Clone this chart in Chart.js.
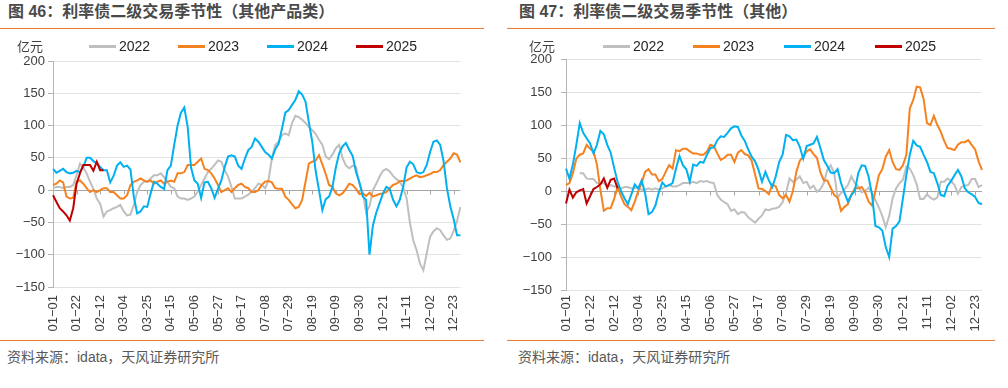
<!DOCTYPE html>
<html><head><meta charset="utf-8">
<script src="https://cdn.jsdelivr.net/npm/chart.js@4.4.1/dist/chart.umd.min.js"></script>
<style>
body{margin:0;width:1008px;height:388px;background:#fff;position:relative;overflow:hidden;font-family:"Liberation Sans","Noto Sans CJK SC",sans-serif;}
.t{position:absolute;font-weight:bold;font-size:16px;color:#4a4a4a;white-space:nowrap;line-height:20px;top:2px;font-family:"Liberation Sans","Noto Sans CJK SC",sans-serif}
.hr{position:absolute;height:0;border-top:1.5px solid #ED7D31;}
.src{position:absolute;font-size:14px;color:#595959;white-space:nowrap;line-height:18px;top:348px}
.unit{position:absolute;font-size:13px;color:#404040;line-height:16px;top:38px;font-family:"Noto Sans CJK SC",sans-serif}
.lg{position:absolute;font-size:14px;color:#262626;line-height:16px;white-space:nowrap;top:38px;padding-left:30px}
.lg i{position:absolute;left:0;height:3px;width:27px;top:7px}
canvas{position:absolute}
</style></head>
<body>
<div class="t" style="left:8px">图 46：利率债二级交易季节性（其他产品类）</div>
<div class="hr" style="left:0;width:484px;top:28px"></div>
<div class="t" style="left:519px">图 47：利率债二级交易季节性（其他）</div>
<div class="hr" style="left:507px;width:488px;top:28px"></div>
<div class="hr" style="left:0;width:484px;top:340px"></div>
<div class="hr" style="left:507px;width:488px;top:340px"></div>
<div class="src" style="left:7px">资料来源：idata，天风证券研究所</div>
<div class="src" style="left:518px">资料来源：idata，天风证券研究所</div>

<canvas id="c1" width="484" height="300" style="left:0;top:40px;width:484px;height:300px"></canvas>
<canvas id="c2" width="500" height="300" style="left:504px;top:40px;width:500px;height:300px"></canvas>

<div class="unit" style="left:17px">亿元</div>
<div class="unit" style="left:529px">亿元</div>
<div id="lg1"></div>
<div id="lg2"></div>

<script>
// ---------- data ----------
const SERIES_NAMES = ['2022','2023','2024','2025'];
const COLORS = ['#BFBFBF','#F5821F','#00B0F0','#C00000'];
const Y_TICKS = [-150,-100,-50,0,50,100,150,200];

// category labels: every 3rd day of the (leap) calendar year
const DATES = [];
for (let i = 0; i < 122; i++) {
  const d = new Date(Date.UTC(2024, 0, 1 + 3 * i));
  DATES.push(String(d.getUTCMonth() + 1).padStart(2, '0') + '−' + String(d.getUTCDate()).padStart(2, '0'));
}

// 图46 其他产品类
const L22 = [3,5,5,3,5,5,8,23,41,35, 26,13,2,-13,-21,-41,-33,-31,-28,-26,
  -23,-33,-39,-38,-23,-3,8,13,13,18, 23,23,26,20,13,5,3,-10,-13,-13,
  -15,-13,-10,-2,8,18,28,33,39,46, 44,31,21,5,-13,-13,-13,-10,-7,-2, 3,
  10,8,3,15,49,70,75,85,88,85, 104,115,113,109,104,98,93,87,78,70,
  52,48,55,65,70,50,38,34,38,36, 10,-3,-35,-25,0,10,21,30,33,29,
  22,17,13,4,-12,-50,-78,-93,-114,-124, -98,-72,-64,-59,-62,-70,-77,-75,-63,-48, -26];
const L23 = [8,10,15,12,-10,-13,-12,13,15,10, 3,-3,0,-3,0,3,3,-3,-3,-8,
  -13,-13,-8,8,13,15,18,15,13,15, 10,13,15,10,13,15,13,26,26,28,
  39,39,39,44,49,33,31,26,18,8, -3,0,3,-3,3,8,10,5,3,-3, -3,
  0,8,13,14,12,3,2,2,-10,-15, -22,-28,-26,-15,13,41,44,46,54,40,
  25,8,5,-5,-8,-5,2,10,8,2, -6,-5,-9,-4,-10,-8,-6,-5,-3,3,
  8,10,14,14,15,18,21,23,20,21, 23,25,28,28,31,39,44,49,57,55, 43];
const L24 = [33,27,30,33,28,26,27,30,28,36, 50,50,45,42,36,31,31,12,22,38,
  43,36,38,32,-10,-36,-33,-25,-26,-5, 13,10,5,2,31,38,70,100,120,128,
  98,35,15,10,-12,12,13,3,-12,2, 15,36,52,54,52,38,33,49,62,67, 80,
  75,67,59,55,49,63,72,95,120,124, 132,140,153,148,137,105,75,30,0,-31,
  -14,-10,5,35,57,68,73,62,53,28, 12,-10,-15,-100,-55,-35,-20,-5,5,2,
  -15,-25,-15,5,35,44,40,28,26,28, 39,59,75,77,70,45,3,-25,-45,-70, -70];
const L25 = [-8,-18,-28,-33,-39,-47,-28,10,26,39,39,39,30,44,31,31];

// 图47 其他
const R22 = [null,null,null,null,27,27,19,18,18,12, 12,12,7,9,7,7,4,6,6,4,
  5,4,2,2,4,2,4,2,4,7, 9,7,7,9,12,12,12,14,12,15,
  14,15,13,12,-6,-13,-17,-20,-30,-28, -35,-32,-33,-40,-44,-48,-42,-37,-28,-29, -27,
  -26,-24,-17,-3,19,14,17,22,12,14, 4,8,-1,3,12,32,39,27,-10,-3,
  2,9,22,12,7,-2,0,5,-3,-14, -25,-38,-55,-38,-11,4,12,17,37,34,
  24,10,-12,-12,-5,-10,-13,-10,14,14, 19,15,9,-4,6,8,9,18,18,6, 9];
const R23 = [9,12,27,49,55,57,70,64,60,40, 2,-30,-26,-26,-12,6,-8,-20,-24,-29,
  -16,0,12,29,33,25,25,15,18,29, 39,34,62,60,64,64,60,57,57,55,
  55,60,70,68,57,47,50,55,55,44, 58,62,56,54,46,25,4,3,0,-5, 10,
  7,-6,-11,-6,-16,0,29,46,52,60, 63,56,50,28,16,16,5,-6,-10,-30,
  -24,-20,-6,4,4,6,-2,-16,-22,0, 24,33,52,62,44,33,32,39,55,125,
  138,158,157,140,103,100,114,100,90,76, 65,64,62,70,74,74,77,70,63,45, 32];
const R24 = [34,19,40,70,103,88,80,72,57,70, 91,86,70,58,35,14,0,-11,-20,-5,
  10,4,16,-3,-35,-32,-22,-2,13,7, 9,12,34,53,39,33,14,40,38,44,
  43,55,65,66,77,83,82,88,95,98, 97,84,76,63,52,45,32,14,29,16, 6,
  22,44,55,85,83,77,78,67,49,68, 70,72,82,65,47,38,28,27,33,12,
  -3,-16,-6,0,27,39,38,22,-5,-53, -55,-60,-85,-100,-57,-53,-46,-11,24,55,
  76,69,67,55,44,29,27,12,-6,-8, 8,15,24,32,22,4,-2,-5,-9,-18, -20];
const R25 = [-19,2,-10,-2,1,3,-19,-8,3,6,10,19,5,17,19,4];

// ---------- legends (HTML text) ----------
function legend(id, xs) {
  const host = document.getElementById(id);
  SERIES_NAMES.forEach((n, k) => {
    const d = document.createElement('div');
    d.className = 'lg';
    d.style.left = xs[k] + 'px';
    d.innerHTML = '<i style="background:' + COLORS[k] + '"></i>' + n;
    host.appendChild(d);
  });
}
legend('lg1', [89, 178, 267, 356]);
legend('lg2', [603, 693, 784, 875]);

// ---------- chart ----------
const zeroLine = {
  id: 'zeroLine',
  beforeDatasetsDraw(chart) {
    const { ctx, chartArea: a, scales: { x, y } } = chart;
    const py = Math.round(y.getPixelForValue(0)) + 0.5;
    ctx.save();
    ctx.strokeStyle = '#a6a6a6';
    ctx.lineWidth = 1;
    ctx.beginPath();
    ctx.moveTo(a.left, py); ctx.lineTo(a.right, py);
    for (let i = 7; i < x.ticks.length; i += 7) {
      const px = Math.round(x.getPixelForTick(i)) + 0.5;
      ctx.moveTo(px, py); ctx.lineTo(px, py + 4);
    }
    ctx.stroke();
    ctx.restore();
  }
};

Chart.defaults.font.family = '"Liberation Sans", Arial, sans-serif';
Chart.defaults.font.size = 13;
Chart.defaults.color = '#404040';

function make(id, series, cfg) {
  const datasets = series.map((vals, k) => ({
    label: SERIES_NAMES[k],
    data: vals,
    borderColor: COLORS[k],
    backgroundColor: COLORS[k],
    borderWidth: 2,
    pointRadius: 0,
    tension: 0,
    fill: false,
    spanGaps: false,
    order: 3 - k
  }));
  return new Chart(document.getElementById(id), {
    type: 'line',
    data: { labels: DATES, datasets },
    plugins: [zeroLine],
    options: {
      responsive: false,
      animation: false,
      events: [],
      layout: { padding: { left: 0, right: cfg.padR, top: cfg.padT, bottom: 0 } },
      plugins: { legend: { display: false }, tooltip: { enabled: false } },
      scales: {
        x: {
          type: 'category',
          grid: { display: false, drawTicks: false },
          border: { display: false },
          ticks: {
            autoSkip: false, maxRotation: 90, minRotation: 90, padding: cfg.xPad,
            color: '#404040', font: { size: 13 },
            callback: (v, i) => (i % 7 === 0 ? DATES[i] : '')
          },
          afterFit: s => { s.height = cfg.xH; }
        },
        y: {
          min: -150, max: 200,
          afterBuildTicks: s => { s.ticks = Y_TICKS.map(v => ({ value: v })); },
          grid: { color: '#e3e3e3', lineWidth: 1, tickLength: 5, tickColor: '#b5b5b5' },
          border: { display: true, color: '#b5b5b5', width: 1 },
          ticks: {
            padding: cfg.yPad, color: '#404040', font: { size: 13 },
            callback: v => String(v).replace('-', '−')
          },
          afterFit: s => { s.width = cfg.yW; }
        }
      }
    }
  });
}

make('c1', [L22, L23, L24, L25], { padR: 22, padT: 21, xH: 53, xPad: 8, yW: 53, yPad: 3 });
make('c2', [R22, R23, R24, R25], { padR: 22, padT: 19, xH: 50, xPad: 5, yW: 62, yPad: 9 });
</script>
</body></html>
